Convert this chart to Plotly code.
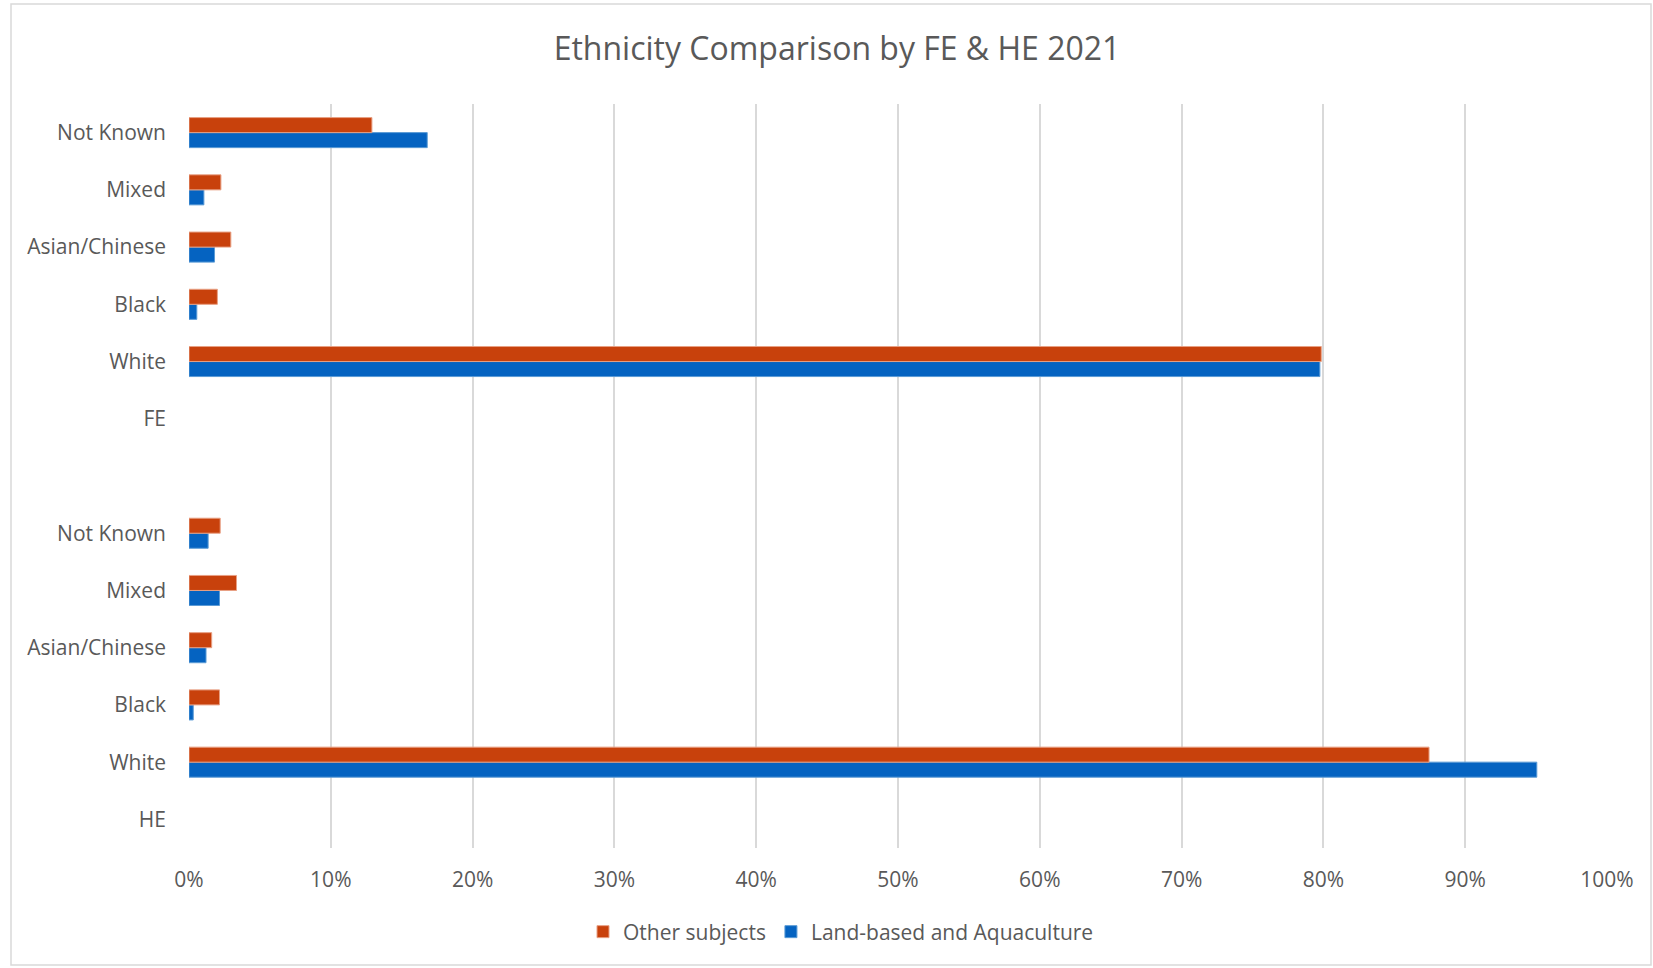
import plotly.graph_objects as go

ethnicities = ["White", "Black", "Asian/Chinese", "Mixed", "Not Known"]
fe_other = [79.85, 2.0, 2.95, 2.25, 12.9]
fe_land = [79.75, 0.55, 1.8, 1.05, 16.8]
he_other = [87.45, 2.15, 1.6, 3.35, 2.2]
he_land = [95.05, 0.3, 1.2, 2.15, 1.35]
x_ticks = list(range(0, 101, 10))

# build category ids bottom -> top
cat_ids, cat_labels, other_vals, land_vals = [], [], [], []
for grp, ov, lv in [("HE", he_other, he_land), ("FE", fe_other, fe_land)]:
    cat_ids.append(grp); cat_labels.append(grp); other_vals.append(None); land_vals.append(None)
    for e, o, l in zip(ethnicities, ov, lv):
        cat_ids.append(f"{grp}|{e}"); cat_labels.append(e)
        other_vals.append(o); land_vals.append(l)
    if grp == "HE":
        cat_ids.append("gap"); cat_labels.append(""); other_vals.append(None); land_vals.append(None)

TXT = "#595959"
FONT = "Open Sans"

fig = go.Figure()
fig.add_trace(go.Bar(
    y=cat_ids, x=land_vals, orientation="h", name="Land-based and Aquaculture",
    marker=dict(color="#0563C1", line=dict(color="#5B9BD5", width=1)), legendrank=2,
))
fig.add_trace(go.Bar(
    y=cat_ids, x=other_vals, orientation="h", name="Other subjects",
    marker=dict(color="#C8410C", line=dict(color="#E8A084", width=1)), legendrank=1,
))

W, H = 1653, 968
L, R, T, B = 189, 1607, 104, 848
pw, ph = R - L, B - T

def px(x):
    return (x - L) / pw

def py(y):
    return (B - y) / ph

fig.update_layout(
    width=W, height=H,
    margin=dict(l=L, r=W - R, t=T, b=H - B),
    paper_bgcolor="white", plot_bgcolor="white",
    barmode="group", bargap=0.475, bargroupgap=0,
    font=dict(family=FONT, color=TXT, size=21),
    title=dict(text="Ethnicity Comparison by FE & HE 2021", x=837 / W, xanchor="center",
               y=1 - 49 / H, yanchor="middle", font=dict(size=32, color=TXT, family=FONT)),
    xaxis=dict(range=[0, 100], tickvals=x_ticks, ticktext=[f"{v}%" for v in x_ticks],
               showgrid=True, gridcolor="#D9D9D9", gridwidth=2, zeroline=False,
               showline=False, ticks="", tickfont=dict(size=21, color=TXT), ticklabelstandoff=17),
    yaxis=dict(type="category", categoryorder="array", categoryarray=cat_ids,
               tickvals=cat_ids, ticktext=cat_labels, range=[-0.5, len(cat_ids) - 0.5],
               showgrid=False, zeroline=False, showline=False, ticks="",
               tickfont=dict(size=21, color=TXT), ticklabelstandoff=22),
    legend=dict(orientation="h", x=px(841), xanchor="center", y=py(932), yanchor="middle",
                font=dict(size=21, color=TXT), itemwidth=30, traceorder="normal"),
    showlegend=True,
    shapes=[dict(type="rect", xref="paper", yref="paper", x0=px(11), x1=px(1651),
                 y0=py(965), y1=py(4), line=dict(color="#D9D9D9", width=1.5), layer="below")],
)

fig.write_html("out.html")
